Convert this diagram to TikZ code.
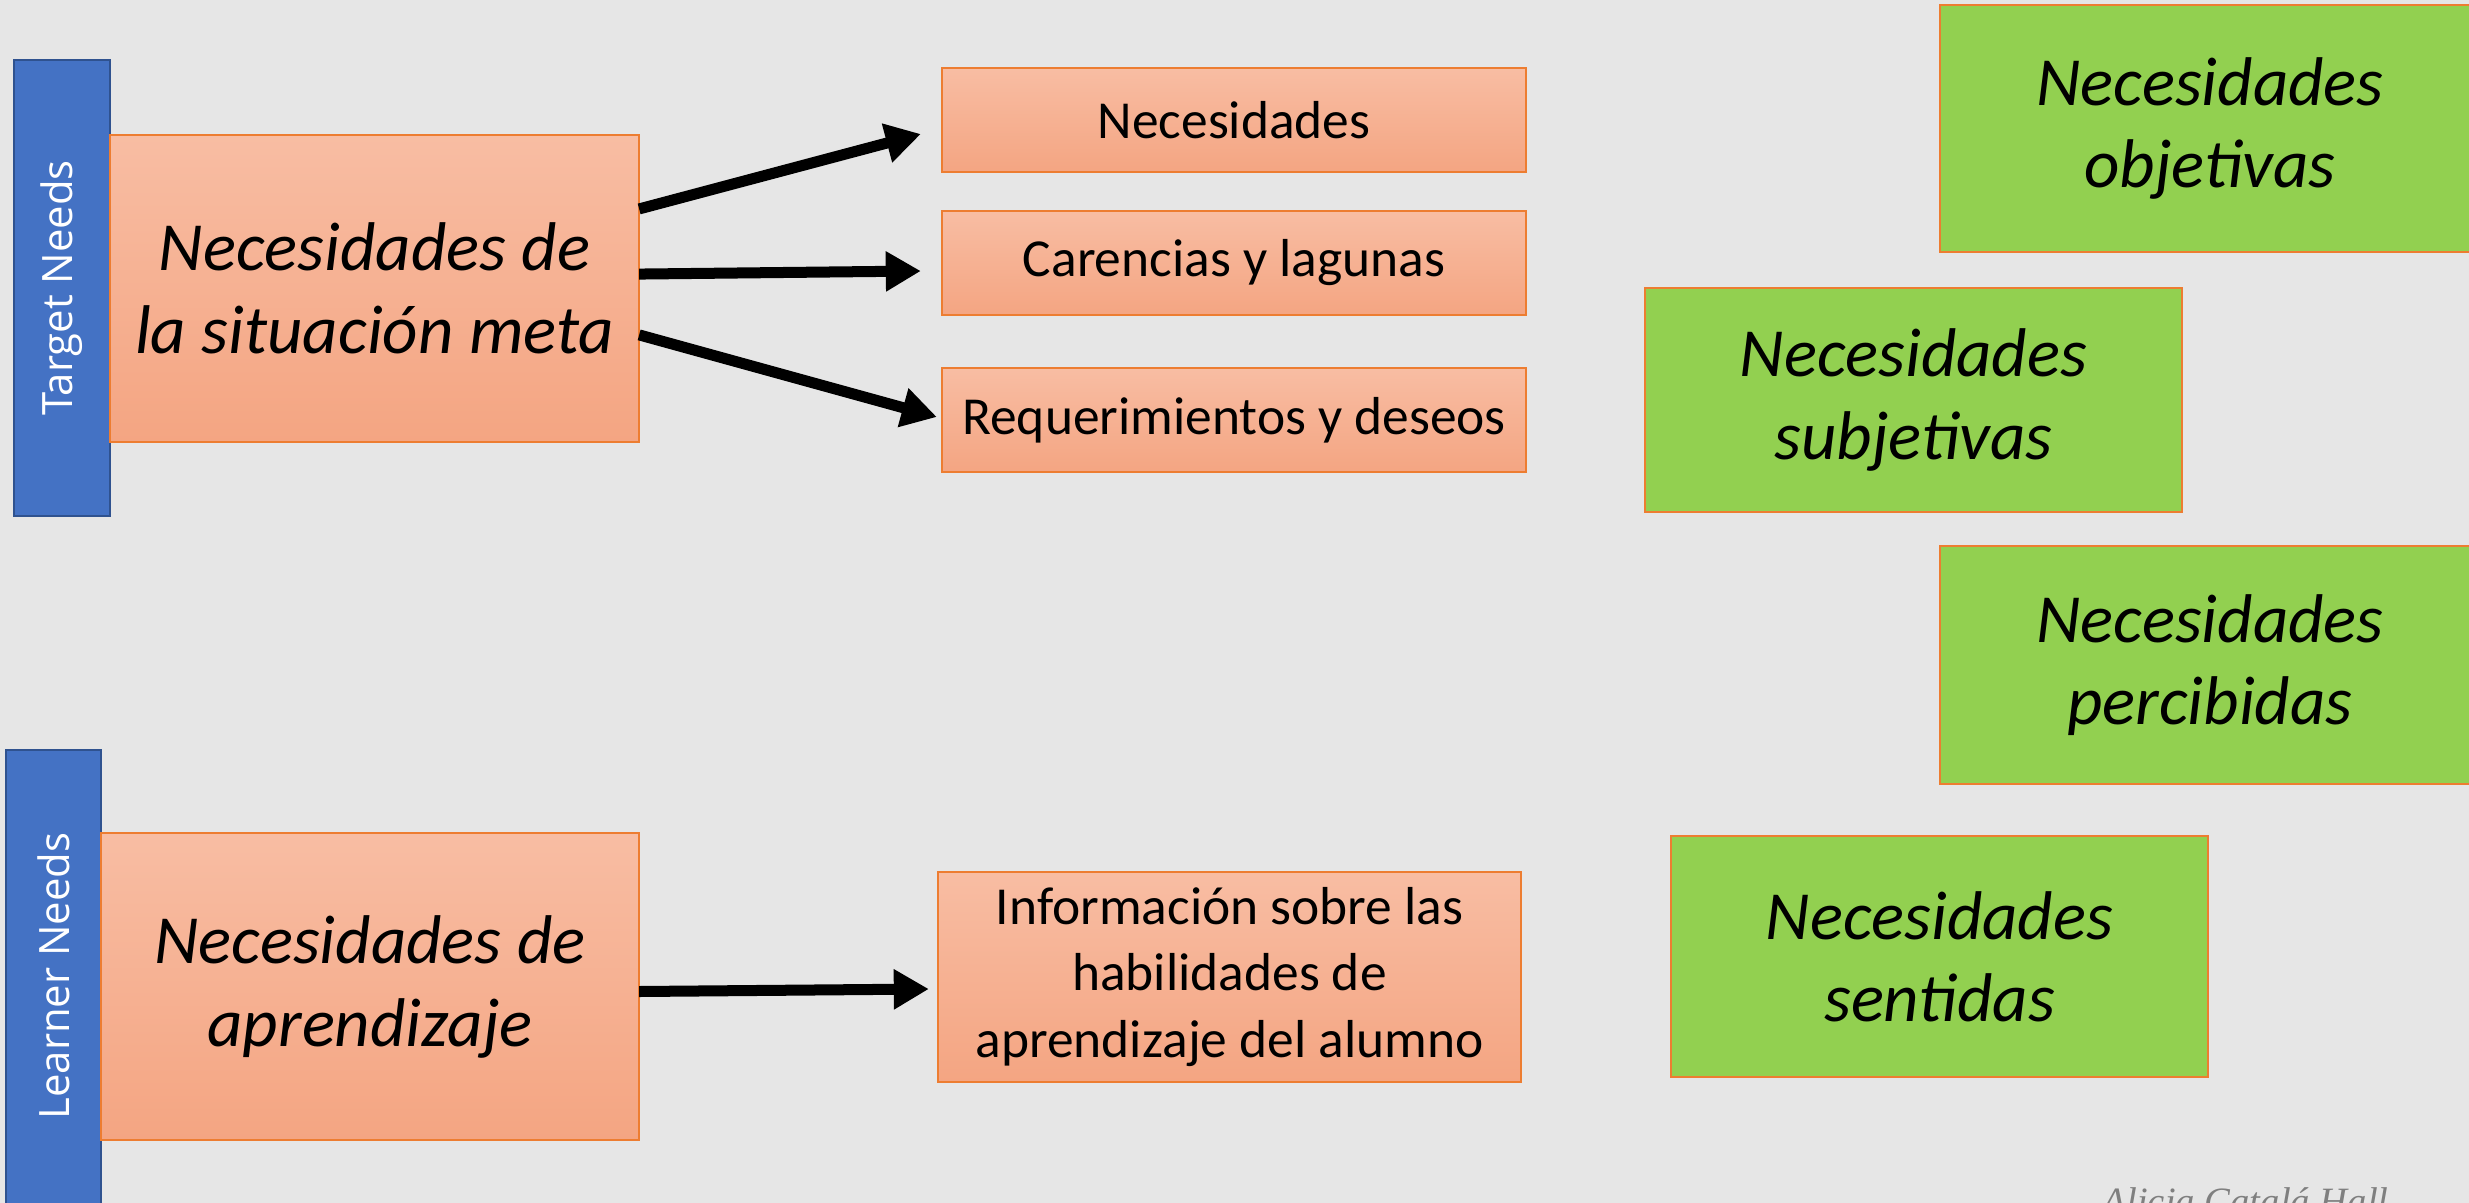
\documentclass[tikz,border=0pt]{standalone}
\usepackage{fontspec}
\setmainfont{Carlito}
\newfontfamily\sidefont{Open Sans}
\newfontfamily\sigfont{Liberation Serif}
\usetikzlibrary{arrows.meta,calc}
\definecolor{bgc}{HTML}{E6E6E6}
\definecolor{barblue}{HTML}{4472C4}
\definecolor{bardark}{HTML}{2F528F}
\definecolor{orgtop}{HTML}{F8BDA3}
\definecolor{orgbot}{HTML}{F4A582}
\definecolor{orgline}{HTML}{ED7D31}
\definecolor{grn}{HTML}{92D050}
\definecolor{sigc}{HTML}{7F7F7F}
\tikzset{
  bar/.style={draw=bardark, line width=0.6pt, fill=barblue, inner sep=0pt, outer sep=0pt},
  barlabel/.style={text=white, font=\sidefont\fontsize{11.9}{14}\selectfont, rotate=90, inner sep=0pt},
  bigbox/.style={draw=orgline, line width=0.5pt, top color=orgtop, bottom color=orgbot,
     inner sep=0pt, outer sep=0pt, align=center, font=\itshape\fontsize{19.6}{23.6}\selectfont},
  smallbox/.style={draw=orgline, line width=0.5pt, top color=orgtop, bottom color=orgbot,
     inner sep=0pt, outer sep=0pt, align=center, font=\fontsize{15.2}{18.8}\selectfont,
     minimum width=5.84cm},
  grnbox/.style={draw=orgline, line width=0.5pt, fill=grn, inner sep=0pt, outer sep=0pt,
     align=center, font=\itshape\fontsize{19.6}{23.4}\selectfont},
  arr/.style={line width=0.11cm, -{Triangle[length=0.35cm,width=0.38cm]}, black}
}
\begin{document}
\begin{tikzpicture}[x=0.01cm,y=-0.01cm]
\useasboundingbox (0,0) rectangle (2469,1203);
\clip (0,0) rectangle (2469,1203);
\fill[bgc] (0,0) rectangle (2469,1203);

% left bars
\node[bar, minimum width=0.96cm, minimum height=4.56cm] (tnbar) at (62,288) {};
\node[barlabel] (tnlab) at (tnbar.center) {Target Needs};
\node[bar, minimum width=0.95cm, minimum height=4.70cm] (lnbar) at (53.5,985) {};
\node[barlabel] (lnlab) at (53.5,976) {Learner Needs};

% main boxes
\node[bigbox, minimum width=5.29cm, minimum height=3.07cm] (tn) at (374.5,288.5)
  {Necesidades de\\la situación meta};
\node[bigbox, minimum width=5.38cm, minimum height=3.07cm] (ln) at (370,986.5)
  {Necesidades de\\aprendizaje};

% small boxes
\node[smallbox, minimum height=1.04cm] (n1) at (1234,120) {Necesidades};
\node[smallbox, minimum height=1.04cm] (n2) at (1234,263) {Carencias y lagunas};
\node[smallbox, minimum height=1.04cm] (n3) at (1234,420) {Requerimientos y deseos};
\node[smallbox, minimum width=5.83cm, minimum height=2.10cm] (n4) at (1229.5,977)
  {Información sobre las\\habilidades de\\aprendizaje del alumno};

% green boxes
\node[grnbox, minimum width=5.40cm, minimum height=2.47cm] (g1) at (2210,128.5)
  {Necesidades\\objetivas};
\node[grnbox, minimum width=5.37cm, minimum height=2.24cm] (g2) at (1913.5,400)
  {Necesidades\\subjetivas};
\node[grnbox, minimum width=5.40cm, minimum height=2.38cm] (g3) at (2210,665)
  {Necesidades\\percibidas};
\node[grnbox, minimum width=5.37cm, minimum height=2.41cm] (g4) at (1939.5,956.5)
  {Necesidades\\sentidas};

% arrows
\draw[arr] ($(tn.north east)!0.241!(tn.south east)$) -- ([xshift=-0.21cm,yshift=-0.14cm]n1.west);
\draw[arr] ($(tn.north east)!0.453!(tn.south east)$) -- ([xshift=-0.21cm,yshift=-0.08cm]n2.west);
\draw[arr] ($(tn.north east)!0.651!(tn.south east)$) -- ([xshift=-0.05cm,yshift=0.03cm]n3.west);
\draw[arr] ([yshift=-0.05cm]ln.east) -- ([xshift=-0.09cm,yshift=-0.12cm]n4.west);

% signature (cut off at the bottom edge, as in the reference)
\node[anchor=base west, inner sep=0pt, text=sigc, font=\sigfont\itshape\fontsize{11}{13}\selectfont]
  (sig) at (2102,1214) {Alicia Catalá Hall};
\end{tikzpicture}
\end{document}
